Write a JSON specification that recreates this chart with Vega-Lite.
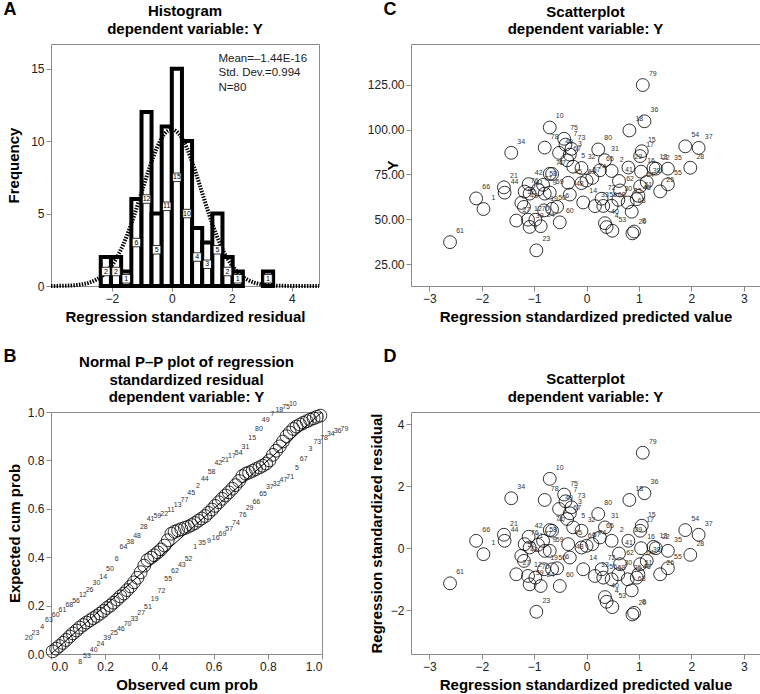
{
"$schema": "https://vega.github.io/schema/vega-lite/v6.json",
"padding": {"left": 2, "top": 0, "right": 0, "bottom": 0},
"background": "white",
"config": {
  "font": "Liberation Sans",
  "view": {"stroke": "#8a8a8a", "strokeWidth": 1},
  "axis": {"domain": false, "grid": false, "tickColor": "#8a8a8a", "tickSize": 5, "labelFontSize": 12, "labelColor": "#222", "labelPadding": 2, "titleFontSize": 15, "titleFontWeight": "bold", "titleColor": "black", "labelFont": "Liberation Sans", "titleFont": "Liberation Sans"},
  "title": {"fontSize": 15, "fontWeight": "bold", "lineHeight": 17.5, "color": "black", "font": "Liberation Sans", "frame": "group"},
  "text": {"font": "Liberation Sans"}
},
"datasets": {
  "hist": [
    {"lo": -2.37, "hi": -2.03, "mid": -2.2, "count": 2},
    {"lo": -2.03, "hi": -1.69, "mid": -1.86, "count": 2},
    {"lo": -1.69, "hi": -1.35, "mid": -1.52, "count": 1},
    {"lo": -1.35, "hi": -1.01, "mid": -1.18, "count": 6},
    {"lo": -1.01, "hi": -0.676, "mid": -0.843, "count": 12},
    {"lo": -0.676, "hi": -0.338, "mid": -0.507, "count": 5},
    {"lo": -0.338, "hi": 0, "mid": -0.169, "count": 11},
    {"lo": 0, "hi": 0.338, "mid": 0.169, "count": 15},
    {"lo": 0.338, "hi": 0.676, "mid": 0.507, "count": 10},
    {"lo": 0.676, "hi": 1.014, "mid": 0.845, "count": 4},
    {"lo": 1.014, "hi": 1.352, "mid": 1.183, "count": 3},
    {"lo": 1.352, "hi": 1.69, "mid": 1.521, "count": 5},
    {"lo": 1.69, "hi": 2.03, "mid": 1.86, "count": 2},
    {"lo": 2.03, "hi": 2.37, "mid": 2.2, "count": 1},
    {"lo": 3.04, "hi": 3.38, "mid": 3.21, "count": 1}
  ],
  "curve": [
    {"z": -4.03, "f": 0.003}, {"z": -3.75, "f": 0.009}, {"z": -3.5, "f": 0.021}, {"z": -3.25, "f": 0.052},
    {"z": -3.0, "f": 0.114}, {"z": -2.75, "f": 0.235}, {"z": -2.5, "f": 0.46}, {"z": -2.25, "f": 0.83},
    {"z": -2.0, "f": 1.43}, {"z": -1.75, "f": 2.29}, {"z": -1.5, "f": 3.46}, {"z": -1.25, "f": 4.9},
    {"z": -1.0, "f": 6.51}, {"z": -0.75, "f": 8.13}, {"z": -0.5, "f": 9.52}, {"z": -0.25, "f": 10.47},
    {"z": 0.0, "f": 10.8}, {"z": 0.25, "f": 10.47}, {"z": 0.5, "f": 9.52}, {"z": 0.75, "f": 8.13},
    {"z": 1.0, "f": 6.51}, {"z": 1.25, "f": 4.9}, {"z": 1.5, "f": 3.46}, {"z": 1.75, "f": 2.29},
    {"z": 2.0, "f": 1.43}, {"z": 2.25, "f": 0.83}, {"z": 2.5, "f": 0.46}, {"z": 2.75, "f": 0.235},
    {"z": 3.0, "f": 0.114}, {"z": 3.25, "f": 0.052}, {"z": 3.5, "f": 0.021}, {"z": 3.75, "f": 0.009},
    {"z": 4.0, "f": 0.003}, {"z": 4.25, "f": 0.001}, {"z": 4.5, "f": 0.0004}, {"z": 4.91, "f": 0.0}
  ],
  "pts": [
    {"id": 1, "pred": -1.967, "y": 55.74, "res": -0.195},
    {"id": 2, "pred": 0.479, "y": 76.94, "res": 0.238},
    {"id": 3, "pred": -0.319, "y": 86.04, "res": 1.126},
    {"id": 4, "pred": 0.383, "y": 45.69, "res": -1.732},
    {"id": 5, "pred": -0.255, "y": 79.34, "res": 0.671},
    {"id": 6, "pred": -0.562, "y": 56.98, "res": -0.649},
    {"id": 7, "pred": -0.402, "y": 91.61, "res": 1.515},
    {"id": 8, "pred": 0.907, "y": 43.23, "res": -2.089},
    {"id": 9, "pred": -0.798, "y": 64.33, "res": -0.087},
    {"id": 10, "pred": -0.702, "y": 101.13, "res": 2.24},
    {"id": 11, "pred": -1.086, "y": 64.32, "res": 0.022},
    {"id": 12, "pred": -1.117, "y": 49.82, "res": -0.898},
    {"id": 13, "pred": 1.277, "y": 78.62, "res": 0.043},
    {"id": 14, "pred": -0.064, "y": 59.4, "res": -0.682},
    {"id": 15, "pred": 1.054, "y": 87.92, "res": 0.725},
    {"id": 16, "pred": 1.041, "y": 76.55, "res": 0.0},
    {"id": 17, "pred": 1.022, "y": 85.21, "res": 0.563},
    {"id": 18, "pred": 0.817, "y": 99.49, "res": 1.558},
    {"id": 19, "pred": -0.811, "y": 54.99, "res": -0.682},
    {"id": 20, "pred": 0.875, "y": 42.2, "res": -2.143},
    {"id": 21, "pred": -1.577, "y": 67.82, "res": 0.433},
    {"id": 22, "pred": 1.322, "y": 78.21, "res": 0.0},
    {"id": 23, "pred": -0.958, "y": 32.73, "res": -2.056},
    {"id": 24, "pred": -0.875, "y": 46.19, "res": -1.223},
    {"id": 25, "pred": 0.785, "y": 59.38, "res": -1.006},
    {"id": 26, "pred": 1.405, "y": 65.56, "res": -0.844},
    {"id": 27, "pred": -1.341, "y": 49.33, "res": -0.844},
    {"id": 28, "pred": 1.98, "y": 78.74, "res": -0.216},
    {"id": 29, "pred": 0.798, "y": 78.83, "res": 0.238},
    {"id": 30, "pred": 0.607, "y": 60.85, "res": -0.844},
    {"id": 31, "pred": 0.351, "y": 82.92, "res": 0.671},
    {"id": 32, "pred": -0.096, "y": 78.6, "res": 0.563},
    {"id": 33, "pred": 0.16, "y": 57.37, "res": -0.898},
    {"id": 34, "pred": -1.437, "y": 87.02, "res": 1.613},
    {"id": 35, "pred": 1.552, "y": 78.22, "res": -0.087},
    {"id": 36, "pred": 1.105, "y": 104.57, "res": 1.775},
    {"id": 37, "pred": 2.139, "y": 89.78, "res": 0.433},
    {"id": 38, "pred": 1.149, "y": 70.79, "res": -0.411},
    {"id": 39, "pred": -1.086, "y": 45.78, "res": -1.169},
    {"id": 40, "pred": 0.351, "y": 47.87, "res": -1.58},
    {"id": 41, "pred": 0.619, "y": 71.37, "res": -0.173},
    {"id": 42, "pred": -1.105, "y": 69.6, "res": 0.368},
    {"id": 43, "pred": -1.194, "y": 56.94, "res": -0.411},
    {"id": 44, "pred": -1.564, "y": 64.87, "res": 0.238},
    {"id": 45, "pred": -0.351, "y": 70.35, "res": 0.13},
    {"id": 46, "pred": 0.958, "y": 61.24, "res": -0.952},
    {"id": 47, "pred": -0.658, "y": 75.28, "res": 0.563},
    {"id": 48, "pred": -0.319, "y": 63.79, "res": -0.303},
    {"id": 49, "pred": -0.524, "y": 87.01, "res": 1.266},
    {"id": 50, "pred": -0.658, "y": 55.89, "res": -0.682},
    {"id": 51, "pred": 0.99, "y": 63.11, "res": -0.844},
    {"id": 52, "pred": -1.245, "y": 59.16, "res": -0.249},
    {"id": 53, "pred": 0.492, "y": 43.65, "res": -1.905},
    {"id": 54, "pred": 1.884, "y": 90.62, "res": 0.584},
    {"id": 55, "pred": 1.552, "y": 69.47, "res": -0.649},
    {"id": 56, "pred": 0.319, "y": 57.47, "res": -0.952},
    {"id": 57, "pred": 0.0, "y": 71.58, "res": 0.076},
    {"id": 58, "pred": -0.83, "y": 69.2, "res": 0.238},
    {"id": 59, "pred": -0.702, "y": 64.9, "res": -0.087},
    {"id": 60, "pred": -0.511, "y": 48.34, "res": -1.223},
    {"id": 61, "pred": -2.605, "y": 37.31, "res": -1.136},
    {"id": 62, "pred": 0.639, "y": 66.1, "res": -0.519},
    {"id": 63, "pred": 0.862, "y": 54.25, "res": -1.364},
    {"id": 64, "pred": 1.022, "y": 68.36, "res": -0.519},
    {"id": 65, "pred": 0.255, "y": 77.3, "res": 0.346},
    {"id": 66, "pred": -2.107, "y": 61.66, "res": 0.238},
    {"id": 67, "pred": -0.37, "y": 82.88, "res": 0.942},
    {"id": 68, "pred": 0.479, "y": 57.57, "res": -1.006},
    {"id": 69, "pred": -0.096, "y": 70.17, "res": 0.022},
    {"id": 70, "pred": -0.977, "y": 49.81, "res": -0.952},
    {"id": 71, "pred": -0.702, "y": 75.34, "res": 0.584},
    {"id": 72, "pred": 0.287, "y": 61.48, "res": -0.682},
    {"id": 73, "pred": -0.287, "y": 89.25, "res": 1.32},
    {"id": 74, "pred": 0.109, "y": 73.06, "res": 0.13},
    {"id": 75, "pred": -0.428, "y": 94.84, "res": 1.732},
    {"id": 76, "pred": -1.181, "y": 65.44, "res": 0.13},
    {"id": 77, "pred": -0.926, "y": 66.61, "res": 0.108},
    {"id": 78, "pred": -0.798, "y": 89.94, "res": 1.558},
    {"id": 79, "pred": 1.073, "y": 124.76, "res": 3.084},
    {"id": 80, "pred": 0.223, "y": 88.91, "res": 1.104}
  ],
  "pp": [
    {"id": 20, "rank": 1, "obs": 0.006, "exp": 0.011},
    {"id": 8, "rank": 2, "obs": 0.019, "exp": 0.022},
    {"id": 23, "rank": 3, "obs": 0.031, "exp": 0.033},
    {"id": 53, "rank": 4, "obs": 0.044, "exp": 0.046},
    {"id": 4, "rank": 5, "obs": 0.056, "exp": 0.058},
    {"id": 40, "rank": 6, "obs": 0.069, "exp": 0.072},
    {"id": 63, "rank": 7, "obs": 0.081, "exp": 0.085},
    {"id": 24, "rank": 8, "obs": 0.094, "exp": 0.097},
    {"id": 60, "rank": 9, "obs": 0.106, "exp": 0.109},
    {"id": 39, "rank": 10, "obs": 0.119, "exp": 0.12},
    {"id": 61, "rank": 11, "obs": 0.131, "exp": 0.13},
    {"id": 25, "rank": 12, "obs": 0.144, "exp": 0.139},
    {"id": 68, "rank": 13, "obs": 0.156, "exp": 0.148},
    {"id": 46, "rank": 14, "obs": 0.169, "exp": 0.157},
    {"id": 56, "rank": 15, "obs": 0.181, "exp": 0.167},
    {"id": 70, "rank": 16, "obs": 0.194, "exp": 0.178},
    {"id": 12, "rank": 17, "obs": 0.206, "exp": 0.19},
    {"id": 33, "rank": 18, "obs": 0.219, "exp": 0.2},
    {"id": 26, "rank": 19, "obs": 0.231, "exp": 0.212},
    {"id": 27, "rank": 20, "obs": 0.244, "exp": 0.225},
    {"id": 30, "rank": 21, "obs": 0.256, "exp": 0.238},
    {"id": 51, "rank": 22, "obs": 0.269, "exp": 0.25},
    {"id": 14, "rank": 23, "obs": 0.281, "exp": 0.264},
    {"id": 19, "rank": 24, "obs": 0.294, "exp": 0.279},
    {"id": 50, "rank": 25, "obs": 0.306, "exp": 0.296},
    {"id": 72, "rank": 26, "obs": 0.319, "exp": 0.315},
    {"id": 6, "rank": 27, "obs": 0.331, "exp": 0.338},
    {"id": 55, "rank": 28, "obs": 0.344, "exp": 0.365},
    {"id": 64, "rank": 29, "obs": 0.356, "exp": 0.388},
    {"id": 62, "rank": 30, "obs": 0.369, "exp": 0.398},
    {"id": 38, "rank": 31, "obs": 0.381, "exp": 0.408},
    {"id": 43, "rank": 32, "obs": 0.394, "exp": 0.42},
    {"id": 48, "rank": 33, "obs": 0.406, "exp": 0.432},
    {"id": 52, "rank": 34, "obs": 0.419, "exp": 0.448},
    {"id": 28, "rank": 35, "obs": 0.431, "exp": 0.47},
    {"id": 1, "rank": 36, "obs": 0.444, "exp": 0.497},
    {"id": 41, "rank": 37, "obs": 0.456, "exp": 0.505},
    {"id": 35, "rank": 38, "obs": 0.469, "exp": 0.511},
    {"id": 59, "rank": 39, "obs": 0.481, "exp": 0.516},
    {"id": 9, "rank": 40, "obs": 0.494, "exp": 0.521},
    {"id": 22, "rank": 41, "obs": 0.506, "exp": 0.526},
    {"id": 16, "rank": 42, "obs": 0.519, "exp": 0.533},
    {"id": 11, "rank": 43, "obs": 0.531, "exp": 0.541},
    {"id": 69, "rank": 44, "obs": 0.544, "exp": 0.551},
    {"id": 13, "rank": 45, "obs": 0.556, "exp": 0.56},
    {"id": 57, "rank": 46, "obs": 0.569, "exp": 0.57},
    {"id": 77, "rank": 47, "obs": 0.581, "exp": 0.583},
    {"id": 74, "rank": 48, "obs": 0.594, "exp": 0.597},
    {"id": 45, "rank": 49, "obs": 0.606, "exp": 0.612},
    {"id": 76, "rank": 50, "obs": 0.619, "exp": 0.627},
    {"id": 2, "rank": 51, "obs": 0.631, "exp": 0.641},
    {"id": 29, "rank": 52, "obs": 0.644, "exp": 0.655},
    {"id": 44, "rank": 53, "obs": 0.656, "exp": 0.668},
    {"id": 66, "rank": 54, "obs": 0.669, "exp": 0.683},
    {"id": 58, "rank": 55, "obs": 0.681, "exp": 0.698},
    {"id": 65, "rank": 56, "obs": 0.694, "exp": 0.715},
    {"id": 42, "rank": 57, "obs": 0.706, "exp": 0.735},
    {"id": 37, "rank": 58, "obs": 0.719, "exp": 0.745},
    {"id": 21, "rank": 59, "obs": 0.731, "exp": 0.75},
    {"id": 32, "rank": 60, "obs": 0.744, "exp": 0.757},
    {"id": 17, "rank": 61, "obs": 0.756, "exp": 0.764},
    {"id": 47, "rank": 62, "obs": 0.769, "exp": 0.771},
    {"id": 54, "rank": 63, "obs": 0.781, "exp": 0.778},
    {"id": 71, "rank": 64, "obs": 0.794, "exp": 0.787},
    {"id": 31, "rank": 65, "obs": 0.806, "exp": 0.8},
    {"id": 5, "rank": 66, "obs": 0.819, "exp": 0.823},
    {"id": 15, "rank": 67, "obs": 0.831, "exp": 0.84},
    {"id": 67, "rank": 68, "obs": 0.844, "exp": 0.858},
    {"id": 80, "rank": 69, "obs": 0.856, "exp": 0.878},
    {"id": 3, "rank": 70, "obs": 0.869, "exp": 0.9},
    {"id": 49, "rank": 71, "obs": 0.881, "exp": 0.915},
    {"id": 73, "rank": 72, "obs": 0.894, "exp": 0.93},
    {"id": 7, "rank": 73, "obs": 0.906, "exp": 0.94},
    {"id": 78, "rank": 74, "obs": 0.919, "exp": 0.948},
    {"id": 18, "rank": 75, "obs": 0.931, "exp": 0.955},
    {"id": 34, "rank": 76, "obs": 0.944, "exp": 0.962},
    {"id": 75, "rank": 77, "obs": 0.956, "exp": 0.968},
    {"id": 36, "rank": 78, "obs": 0.969, "exp": 0.974},
    {"id": 10, "rank": 79, "obs": 0.981, "exp": 0.98},
    {"id": 79, "rank": 80, "obs": 0.994, "exp": 0.985}
  ]
},
"columns": 2,
"spacing": {"row": 126, "column": 89},
"bounds": "flush",
"concat": [
  {
    "width": 268, "height": 242,
    "title": {"text": ["Histogram", "dependent variable: Y"], "offset": -36},
    "layer": [
      {
        "layer": [
          {
            "data": {"name": "hist"},
            "mark": {"type": "rect", "fill": "white", "stroke": "black", "strokeWidth": 4},
            "encoding": {
              "x": {"field": "lo", "type": "quantitative", "scale": {"domain": [-4.03, 4.91], "nice": false, "zero": false}, "axis": {"values": [-2, 0, 2, 4], "title": "Regression standardized residual", "titlePadding": 5}},
              "x2": {"field": "hi"},
              "y": {"field": "count", "type": "quantitative", "scale": {"domain": [0, 16.7], "nice": false}, "axis": {"values": [0, 5, 10, 15], "title": "Frequency", "titlePadding": 9}},
              "y2": {"datum": 0}
            }
          },
          {
            "data": {"name": "curve"},
            "mark": {"type": "line", "stroke": "black", "strokeWidth": 4, "strokeDash": [1.5, 1.3], "interpolate": "monotone"},
            "encoding": {
              "x": {"field": "z", "type": "quantitative"},
              "y": {"field": "f", "type": "quantitative"}
            }
          },
          {
            "data": {"values": [{}]},
            "mark": {"type": "text", "text": ["Mean=–1.44E-16", "Std. Dev.=0.994", "N=80"], "align": "left", "baseline": "top", "fontSize": 11.5, "lineHeight": 14.5, "fill": "#222"},
            "encoding": {"x": {"datum": 1.557}, "y": {"datum": 16.1}}
          },
          {
            "data": {"values": [{}]},
            "mark": {"type": "text", "text": "A", "align": "left", "baseline": "middle", "fontSize": 18, "fontWeight": "bold", "fill": "black"},
            "encoding": {"x": {"datum": -5.614}, "y": {"datum": 19.05}}
          }
        ]
      },
      {
        "data": {"name": "hist"},
        "encoding": {
          "x": {"field": "mid", "type": "quantitative"},
          "y": {"field": "count", "type": "quantitative", "scale": {"domain": [0, 33.4], "nice": false}, "axis": null}
        },
        "layer": [
          {"mark": {"type": "point", "shape": "square", "filled": true, "fill": "white", "stroke": "black", "strokeWidth": 0.8, "size": 72, "opacity": 1}},
          {"mark": {"type": "text", "fontSize": 7, "baseline": "middle", "align": "center", "fill": "black"}, "encoding": {"text": {"field": "count", "type": "quantitative"}}}
        ]
      }
    ],
    "resolve": {"scale": {"y": "independent"}}
  },
  {
    "width": 349, "height": 242,
    "title": {"text": ["Scatterplot", "dependent variable: Y"], "offset": -36},
    "data": {"name": "pts"},
    "layer": [
      {
        "mark": {"type": "point", "shape": "circle", "filled": false, "stroke": "black", "strokeWidth": 0.8, "size": 165, "opacity": 1},
        "encoding": {
          "x": {"field": "pred", "type": "quantitative", "scale": {"domain": [-3.35, 3.31], "nice": false, "zero": false}, "axis": {"values": [-3, -2, -1, 0, 1, 2, 3], "title": "Regression standardized predicted value", "titlePadding": 5}},
          "y": {"field": "y", "type": "quantitative", "scale": {"domain": [12.9, 147.6], "nice": false, "zero": false}, "axis": {"values": [25, 50, 75, 100, 125], "format": ".2f", "title": "Y", "titlePadding": -33}}
        }
      },
      {
        "mark": {"type": "text", "fontSize": 7, "dx": 10, "dy": -11, "fill": "#333"},
        "encoding": {
          "x": {"field": "pred", "type": "quantitative"},
          "y": {"field": "y", "type": "quantitative"},
          "text": {"field": "id", "type": "nominal"}
        }
      },
      {
        "data": {"values": [{}]},
        "mark": {"type": "text", "text": "C", "align": "left", "baseline": "middle", "fontSize": 18, "fontWeight": "bold", "fill": "black"},
        "encoding": {"x": {"datum": -3.875}, "y": {"datum": 166.5}}
      }
    ]
  },
  {
    "width": 271, "height": 242,
    "title": {"text": ["Normal P–P plot of regression", "standardized residual", "dependent variable: Y"], "offset": -57},
    "layer": [
      {
        "data": {"values": [{"p": 0}, {"p": 1}]},
        "mark": {"type": "line", "stroke": "black", "strokeWidth": 1},
        "encoding": {
          "x": {"field": "p", "type": "quantitative", "scale": {"domain": [0, 1], "nice": false}, "axis": {"values": [0, 0.2, 0.4, 0.6, 0.8, 1], "format": ".1f", "title": "Observed cum prob", "titlePadding": 5}},
          "y": {"field": "p", "type": "quantitative", "scale": {"domain": [0, 1], "nice": false}, "axis": {"values": [0, 0.2, 0.4, 0.6, 0.8, 1], "format": ".1f", "title": "Expected cum prob", "titlePadding": 5}}
        }
      },
      {
        "data": {"name": "pp"},
        "mark": {"type": "point", "shape": "circle", "filled": false, "stroke": "black", "strokeWidth": 0.8, "size": 165, "opacity": 1},
        "encoding": {
          "x": {"field": "obs", "type": "quantitative"},
          "y": {"field": "exp", "type": "quantitative"}
        }
      },
      {
        "data": {"name": "pp"},
        "transform": [{"filter": "datum.rank % 2 == 1"}],
        "mark": {"type": "text", "fontSize": 7, "dx": -24, "dy": -13, "fill": "#333"},
        "encoding": {
          "x": {"field": "obs", "type": "quantitative"},
          "y": {"field": "exp", "type": "quantitative"},
          "text": {"field": "id", "type": "nominal"}
        }
      },
      {
        "data": {"name": "pp"},
        "transform": [{"filter": "datum.rank % 2 == 0"}],
        "mark": {"type": "text", "fontSize": 7, "dx": 24, "dy": 13, "fill": "#333"},
        "encoding": {
          "x": {"field": "obs", "type": "quantitative"},
          "y": {"field": "exp", "type": "quantitative"},
          "text": {"field": "id", "type": "nominal"}
        }
      },
      {
        "data": {"values": [{}]},
        "mark": {"type": "text", "text": "B", "align": "left", "baseline": "middle", "fontSize": 18, "fontWeight": "bold", "fill": "black"},
        "encoding": {"x": {"datum": -0.1753}, "y": {"datum": 1.227}}
      }
    ]
  },
  {
    "width": 349, "height": 242,
    "title": {"text": ["Scatterplot", "dependent variable: Y"], "offset": -57},
    "data": {"name": "pts"},
    "layer": [
      {
        "mark": {"type": "point", "shape": "circle", "filled": false, "stroke": "black", "strokeWidth": 0.8, "size": 165, "opacity": 1},
        "encoding": {
          "x": {"field": "pred", "type": "quantitative", "scale": {"domain": [-3.35, 3.31], "nice": false, "zero": false}, "axis": {"values": [-3, -2, -1, 0, 1, 2, 3], "title": "Regression standardized predicted value", "titlePadding": 5}},
          "y": {"field": "res", "type": "quantitative", "scale": {"domain": [-3.42, 4.4], "nice": false, "zero": false}, "axis": {"values": [-2, 0, 2, 4], "title": "Regression standardized residual", "titlePadding": 6}}
        }
      },
      {
        "mark": {"type": "text", "fontSize": 7, "dx": 10, "dy": -11, "fill": "#333"},
        "encoding": {
          "x": {"field": "pred", "type": "quantitative"},
          "y": {"field": "res", "type": "quantitative"},
          "text": {"field": "id", "type": "nominal"}
        }
      },
      {
        "data": {"values": [{}]},
        "mark": {"type": "text", "text": "D", "align": "left", "baseline": "middle", "fontSize": 18, "fontWeight": "bold", "fill": "black"},
        "encoding": {"x": {"datum": -3.875}, "y": {"datum": 6.18}}
      }
    ]
  }
]
}
